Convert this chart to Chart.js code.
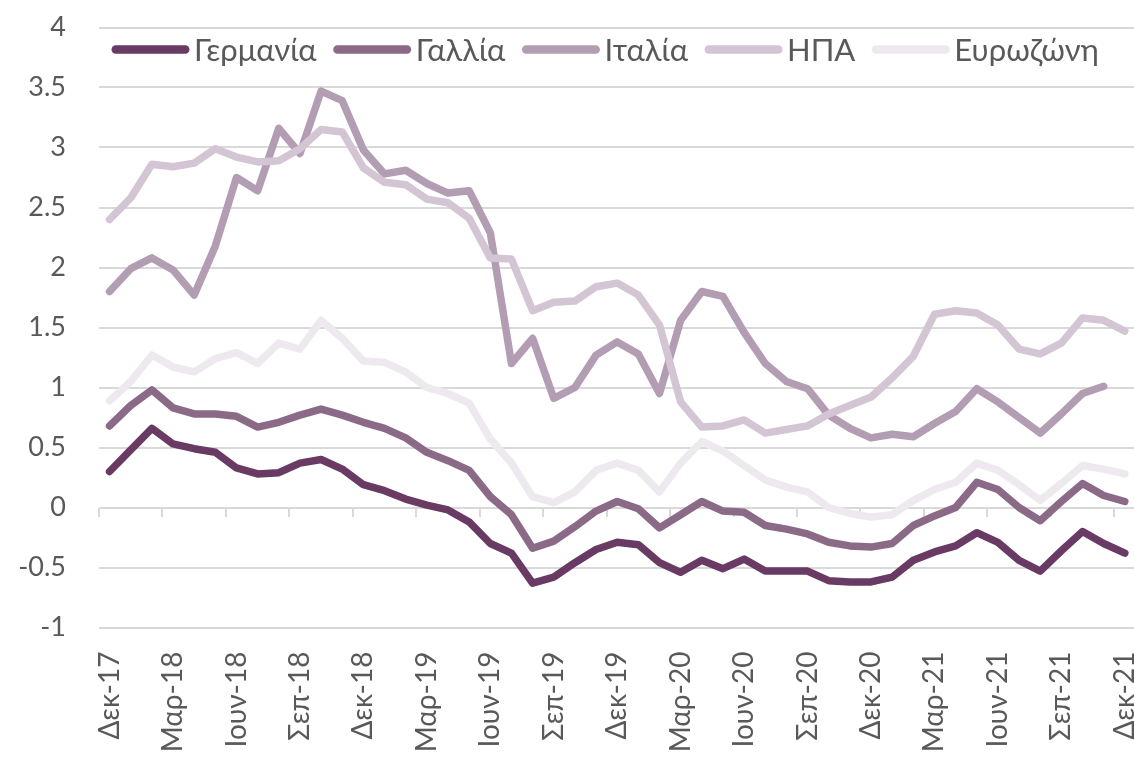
<!DOCTYPE html>
<html>
<head>
<meta charset="utf-8">
<style>
html,body{margin:0;padding:0;overflow:hidden;background:#ffffff;}
#wrap{position:absolute;left:0;top:0;width:1136px;height:757px;}
</style>
<script src="https://cdn.jsdelivr.net/npm/chart.js@4.4.0/dist/chart.umd.min.js"></script>
</head>
<body>
<div id="wrap"><canvas id="c" width="1136" height="757"></canvas></div>
<script>
const categories = [
  'Δεκ-17','Ιαν-18','Φεβ-18','Μαρ-18','Απρ-18','Μαϊ-18','Ιουν-18','Ιουλ-18','Αυγ-18','Σεπ-18','Οκτ-18','Νοε-18',
  'Δεκ-18','Ιαν-19','Φεβ-19','Μαρ-19','Απρ-19','Μαϊ-19','Ιουν-19','Ιουλ-19','Αυγ-19','Σεπ-19','Οκτ-19','Νοε-19',
  'Δεκ-19','Ιαν-20','Φεβ-20','Μαρ-20','Απρ-20','Μαϊ-20','Ιουν-20','Ιουλ-20','Αυγ-20','Σεπ-20','Οκτ-20','Νοε-20',
  'Δεκ-20','Ιαν-21','Φεβ-21','Μαρ-21','Απρ-21','Μαϊ-21','Ιουν-21','Ιουλ-21','Αυγ-21','Σεπ-21','Οκτ-21','Νοε-21',
  'Δεκ-21'
];

const seriesNames = ['Γερμανία', 'Γαλλία', 'Ιταλία', 'ΗΠΑ', 'Ευρωζώνη'];

const germany = [0.30,0.48,0.66,0.53,0.49,0.46,0.33,0.28,0.29,0.37,0.40,0.32,
  0.19,0.14,0.07,0.02,-0.02,-0.12,-0.30,-0.38,-0.63,-0.58,-0.46,-0.35,
  -0.29,-0.31,-0.46,-0.54,-0.44,-0.51,-0.43,-0.53,-0.53,-0.53,-0.61,-0.62,
  -0.62,-0.58,-0.44,-0.37,-0.32,-0.21,-0.29,-0.44,-0.53,-0.36,-0.20,-0.30,
  -0.38];

const france = [0.68,0.85,0.98,0.83,0.78,0.78,0.76,0.67,0.71,0.77,0.82,0.77,
  0.71,0.66,0.58,0.46,0.39,0.31,0.09,-0.06,-0.34,-0.28,-0.16,-0.03,
  0.05,-0.01,-0.17,-0.06,0.05,-0.03,-0.04,-0.15,-0.18,-0.22,-0.29,-0.32,
  -0.33,-0.30,-0.15,-0.07,0.00,0.21,0.15,0.00,-0.11,0.05,0.20,0.10,
  0.05];

const italy = [1.80,1.99,2.08,1.98,1.77,2.18,2.75,2.64,3.16,2.95,3.47,3.39,
  2.98,2.78,2.81,2.70,2.62,2.64,2.29,1.20,1.41,0.91,1.00,1.27,
  1.38,1.28,0.95,1.56,1.80,1.76,1.46,1.20,1.05,0.99,0.77,0.66,
  0.58,0.61,0.59,0.70,0.80,0.99,0.88,0.75,0.62,0.78,0.95,1.01,
  null];

const usa = [2.40,2.58,2.86,2.84,2.87,2.99,2.92,2.88,2.89,2.99,3.15,3.13,
  2.83,2.71,2.69,2.57,2.54,2.41,2.08,2.07,1.64,1.71,1.72,1.84,
  1.87,1.77,1.52,0.88,0.67,0.68,0.73,0.62,0.65,0.68,0.78,0.85,
  0.92,1.08,1.26,1.61,1.64,1.62,1.52,1.32,1.28,1.37,1.58,1.56,
  1.47];

const eurozone = [0.89,1.05,1.27,1.17,1.13,1.24,1.29,1.20,1.37,1.32,1.56,1.41,
  1.22,1.21,1.13,1.00,0.95,0.87,0.57,0.37,0.09,0.04,0.13,0.31,
  0.37,0.31,0.13,0.37,0.55,0.47,0.35,0.23,0.17,0.13,0.00,-0.05,
  -0.08,-0.06,0.06,0.15,0.21,0.37,0.31,0.19,0.06,0.20,0.35,0.32,
  0.28];

const seriesValues = [germany, france, italy, usa, eurozone];
const seriesColors = ['#683a64', '#8b6a88', '#b29db3', '#d3c5d4', '#eee9ef'];

const yMin = -1, yMax = 4, yStep = 0.5;
const labelEvery = 3;

const FONT = 'Lato, "Open Sans", sans-serif';
const TEXT = '#595959';
const GRID = '#d9d9d9';

const axisTicks = {
  id: 'axisTicks',
  beforeDatasetsDraw(c) {
    const xs = c.scales.x, ys = c.scales.y, ctx = c.ctx;
    const y0 = Math.round(ys.getPixelForValue(0));
    ctx.save();
    ctx.strokeStyle = GRID;
    ctx.lineWidth = 2;
    for (let i = 0; i <= categories.length; i += labelEvery) {
      const px = Math.round(xs.getPixelForValue(i - 0.5));
      ctx.beginPath();
      ctx.moveTo(px, y0);
      ctx.lineTo(px, y0 + 9);
      ctx.stroke();
    }
    ctx.restore();
  }
};

const customLegend = {
  id: 'customLegend',
  afterDraw(c) {
    const ctx = c.ctx;
    ctx.save();
    ctx.font = '31px ' + FONT;
    ctx.textBaseline = 'middle';
    let x = c.chartArea.left + 12.5;
    const yc = 49.5;
    const lw = 8.5;
    c.data.datasets.forEach(ds => {
      ctx.strokeStyle = ds.borderColor;
      ctx.lineWidth = lw;
      ctx.lineCap = 'round';
      ctx.beginPath();
      ctx.moveTo(x + lw / 2, yc);
      ctx.lineTo(x + 78 - lw / 2, yc);
      ctx.stroke();
      x += 78 + 4.5;
      ctx.fillStyle = TEXT;
      ctx.textAlign = 'left';
      ctx.fillText(ds.label, x, yc + 1);
      x += ctx.measureText(ds.label).width + 16.5;
    });
    ctx.restore();
  }
};

function draw() {
  const ctx = document.getElementById('c').getContext('2d');
  new Chart(ctx, {
    type: 'line',
    data: {
      labels: categories,
      datasets: seriesNames.map((name, i) => ({
        label: name,
        data: seriesValues[i],
        borderColor: seriesColors[i],
        backgroundColor: seriesColors[i],
        order: seriesNames.length - i,
        spanGaps: false
      }))
    },
    options: {
      responsive: false,
      animation: false,
      layout: { padding: { top: 27.5, right: 0.6, left: 0, bottom: 0 } },
      plugins: { legend: { display: false }, tooltip: { enabled: false } },
      elements: {
        point: { radius: 0, hoverRadius: 0 },
        line: { borderWidth: 7.5, tension: 0, borderCapStyle: 'round', borderJoinStyle: 'round', fill: false }
      },
      scales: {
        x: {
          type: 'category',
          offset: true,
          grid: { display: false, drawTicks: false },
          border: { display: false },
          ticks: {
            autoSkip: false,
            minRotation: 90,
            maxRotation: 90,
            padding: 24,
            color: TEXT,
            font: { family: FONT, size: 28 },
            callback: function (v, i) { return i % labelEvery === 0 ? this.getLabelForValue(v) : ''; }
          },
          afterFit(s) { s.height = 129.5; s.paddingLeft = 0; s.paddingRight = 0; s.paddingTop = 0; s.paddingBottom = 0; }
        },
        y: {
          min: yMin,
          max: yMax,
          grid: { color: GRID, lineWidth: 2, drawTicks: false },
          border: { display: false },
          ticks: {
            stepSize: yStep,
            padding: 33,
            color: TEXT,
            font: { family: FONT, size: 27 },
            callback: v => String(Math.round(v * 10) / 10)
          },
          afterFit(s) { s.width = 99; s.paddingTop = 0; s.paddingBottom = 0; s.paddingLeft = 0; s.paddingRight = 0; }
        }
      }
    },
    plugins: [axisTicks, customLegend]
  });
}

if (document.fonts && document.fonts.load) {
  Promise.all([document.fonts.load('27px Lato'), document.fonts.load('31px Lato')])
    .then(draw, draw);
} else {
  draw();
}
</script>
</body>
</html>
